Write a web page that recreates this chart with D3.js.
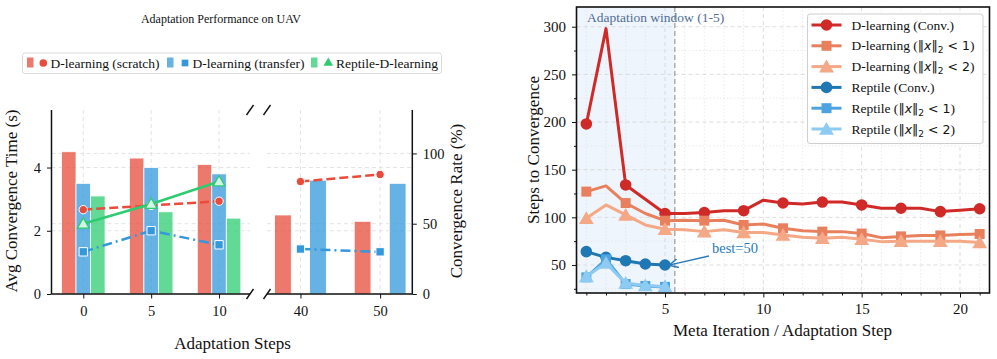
<!DOCTYPE html>
<html><head><meta charset="utf-8">
<script src="https://cdn.jsdelivr.net/npm/d3@7"></script>
<style>
body{margin:0;background:#fff}
svg{display:block}
text{font-family:"Liberation Serif","Times New Roman",serif;fill:#111}
</style>
</head><body>
<svg id="c" width="997" height="359"></svg>
<script>
// ---------------- data (left chart) ----------------
const adaptSteps   = [0, 5, 10, 40, 50];
const timeScratch  = [4.5, 4.3, 4.1, 2.5, 2.3];
const timeTransfer = [3.5, 4.0, 3.8, 3.6, 3.5];
const timeReptile  = [3.1, 2.6, 2.4, null, null];
const rateScratch  = [60, 63, 66, 80, 85];
const rateTransfer = [30, 45, 35, 32, 30];
const rateReptile  = [50, 64, 80, null, null];
const timeTicks = [0, 2, 4];
const rateTicks = [0, 50, 100];
const leftPanelSteps = [0, 5, 10];
const rightPanelSteps = [40, 50];

// ---------------- data (right chart) ----------------
const metaIter = [1,2,3,4,5,6,7,8,9,10,11,12,13,14,15,16,17,18,19,20,21];
const dConv = [198,298,134,119,104,104,105,107,107,118,115,114,116,116,113,109.5,109.5,109.5,106,107.5,109];
const dLt1  = [127,133,115,104,96.5,97,96.5,97,92,93,88.5,86,85,85,83,78.7,80,81,81,82,82.5];
const dLt2  = [99,113,102.5,92,87.5,87,85,87,84,84,81.5,79,78,79,77,74.5,75,75,75,75,73.5];
const reptIter = [1,2,3,4,5];
const rConv = [64,58,54.5,51,50];
const rLt1  = [37,56,30,28,27];
const rLt2  = [38,52,31,28.5,27.5];
const stepTicks = [50,100,150,200,250,300];
const iterTicks = [5,10,15,20];

const svg = d3.select('#c');
const SERIF = '"Liberation Serif","Times New Roman",serif';
const MATH = '"DejaVu Sans",sans-serif';

// =============== LEFT CHART ===============
const red = '#e74c3c', blue = '#3498db', green = '#2ecc71';
const yT = d3.scaleLinear().domain([0, 5.82]).range([294, 110]);
const yR = d3.scaleLinear().domain([0, 130.9]).range([294, 110]);
const xA = d3.scaleLinear().domain([-2.34, 12.28]).range([51.5, 250]);
const xB = d3.scaleLinear().domain([35.8, 54.04]).range([267, 412.3]);

const gL = svg.append('g');
function hgrid(xs, scale, ticks){
  ticks.forEach(t=>{
    gL.append('line').attr('x1',xs.range()[0]).attr('x2',xs.range()[1])
      .attr('y1',scale(t)).attr('y2',scale(t))
      .attr('stroke','#dcdcdc').attr('stroke-width',0.8).attr('stroke-dasharray','4,3');
  });
}
[[xA,leftPanelSteps],[xB,rightPanelSteps]].forEach(([xs,st])=>{
  hgrid(xs, yT, timeTicks.filter(t=>t>0));
  hgrid(xs, yR, rateTicks.filter(t=>t>0));
  st.forEach(s=>{
    gL.append('line').attr('x1',xs(s)).attr('x2',xs(s)).attr('y1',110).attr('y2',294)
      .attr('stroke','#dcdcdc').attr('stroke-width',0.8).attr('stroke-dasharray','4,3');
  });
});

function drawPanel(xs, steps, bars, w){
  steps.forEach(s=>{
    const i = adaptSteps.indexOf(s);
    bars.forEach(b=>{
      const v = b.vals[i];
      if(v==null) return;
      gL.append('rect')
        .attr('x', xs(s + b.off - w/2)).attr('width', xs(s + w/2) - xs(s - w/2))
        .attr('y', yT(v)).attr('height', yT(0) - yT(v))
        .attr('fill', b.color).attr('fill-opacity', 0.75)
        .attr('stroke','#fff').attr('stroke-width',0.8);
    });
  });
  const lines = [
    {vals: rateScratch, color: red, dash:'9,4', sym: d3.symbolCircle, size: 55},
    {vals: rateTransfer, color: blue, dash:'10,4,2,4', sym: d3.symbolSquare, size: 70},
    {vals: rateReptile, color: green, dash:null, sym: d3.symbolTriangle, size: 60}
  ];
  lines.forEach(L=>{
    const pts = steps.map(s=>[s, L.vals[adaptSteps.indexOf(s)]]).filter(p=>p[1]!=null);
    if(!pts.length) return;
    gL.append('path').attr('d', d3.line().x(p=>xs(p[0])).y(p=>yR(p[1]))(pts))
      .attr('fill','none').attr('stroke',L.color).attr('stroke-width',2.5)
      .attr('stroke-dasharray', L.dash);
    pts.forEach(p=>{
      const isTri = L.sym===d3.symbolTriangle;
      gL.append('path').attr('d', d3.symbol().type(L.sym).size(L.size)())
        .attr('transform',`translate(${xs(p[0])},${yR(p[1]) + (isTri?1:0)})`)
        .attr('fill', isTri ? '#d5f5e3' : L.color)
        .attr('stroke', isTri ? green : '#fff').attr('stroke-width', isTri?1.3:1);
    });
  });
}
drawPanel(xA, leftPanelSteps, [
  {vals: timeScratch, color: red, off: -1.07},
  {vals: timeTransfer, color: blue, off: 0},
  {vals: timeReptile, color: green, off: 1.07}
], 1.07);
drawPanel(xB, rightPanelSteps, [
  {vals: timeScratch, color: red, off: -2.2},
  {vals: timeTransfer, color: blue, off: 2.2}
], 2.1);

// spines & axes
const axL = gL.append('g').attr('transform','translate(51.5,0)')
  .call(d3.axisLeft(yT).tickValues(timeTicks).tickFormat(d3.format('d')).tickSize(4.5).tickPadding(6));
const axR = gL.append('g').attr('transform','translate(412.3,0)')
  .call(d3.axisRight(yR).tickValues(rateTicks).tickFormat(d3.format('d')).tickSize(4.5).tickPadding(6));
const axBA = gL.append('g').attr('transform','translate(0,294)')
  .call(d3.axisBottom(xA).tickValues(leftPanelSteps).tickSize(4.5).tickPadding(7));
const axBB = gL.append('g').attr('transform','translate(0,294)')
  .call(d3.axisBottom(xB).tickValues(rightPanelSteps).tickSize(4.5).tickPadding(7));
[axL,axR,axBA,axBB].forEach(a=>{
  a.selectAll('path.domain').attr('stroke','#111').attr('stroke-width',1.5);
  a.selectAll('.tick line').attr('stroke','#111').attr('stroke-width',1);
  a.selectAll('text').attr('font-family',SERIF).attr('font-size',14.5).attr('fill','#222');
});
axBA.select('path.domain').attr('d',`M51.5,0H250`);
axBB.select('path.domain').attr('d',`M267,0H412.3`);
axL.select('path.domain').attr('d',`M0,0V${-(294-110)}`).attr('transform','translate(0,294)');
axR.select('path.domain').attr('d',`M0,0V${-(294-110)}`).attr('transform','translate(0,294)');

// break marks
[[250,294],[267,294],[250,110],[267,110]].forEach(([x,y])=>{
  gL.append('line').attr('x1',x-3.5).attr('y1',y+5).attr('x2',x+3.5).attr('y2',y-5)
    .attr('stroke','#111').attr('stroke-width',1.4);
});

// labels
gL.append('text').attr('x',221).attr('y',22.5).attr('text-anchor','middle')
  .attr('font-size',12).text('Adaptation Performance on UAV');
gL.append('text').attr('transform','translate(17,201) rotate(-90)').attr('text-anchor','middle')
  .attr('font-size',17).text('Avg Convergence Time (s)');
gL.append('text').attr('transform','translate(462,201) rotate(-90)').attr('text-anchor','middle')
  .attr('font-size',17).text('Convergence Rate (%)');
gL.append('text').attr('x',232.5).attr('y',349).attr('text-anchor','middle')
  .attr('font-size',17).text('Adaptation Steps');

// legend (left)
const lg = gL.append('g');
lg.append('rect').attr('x',22.5).attr('y',53).attr('width',419).attr('height',20.5).attr('rx',2.5)
  .attr('fill','#fff').attr('stroke','#d0d0d0').attr('stroke-width',0.8);
const legItems = [
  {color: red, sym: d3.symbolCircle, size: 45, px: 27, mx: 43.3, tx: 50.5, label: 'D-learning (scratch)'},
  {color: blue, sym: d3.symbolSquare, size: 45, px: 167, mx: 185, tx: 192.5, label: 'D-learning (transfer)'},
  {color: green, sym: d3.symbolTriangle, size: 40, px: 311, mx: 328.3, tx: 336, label: 'Reptile-D-learning'}
];
legItems.forEach(it=>{
  lg.append('rect').attr('x',it.px).attr('y',57.5).attr('width',6.5).attr('height',10)
    .attr('fill',it.color).attr('fill-opacity',0.75);
  lg.append('path').attr('d',d3.symbol().type(it.sym).size(it.size)())
    .attr('transform',`translate(${it.mx},63)`).attr('fill',it.color);
  lg.append('text').attr('x',it.tx).attr('y',67.8).attr('font-size',13.5).text(it.label);
});

// =============== RIGHT CHART ===============
const X0 = 576.5, X1 = 989.5, Y0 = 7, Y1 = 293;
const x = d3.scaleLinear().domain([0.5, 21.5]).range([X0, X1]);
const y = d3.scaleLinear().domain([20.6, 320.7]).range([Y1, Y0]);
const gR = svg.append('g');

gR.append('rect').attr('x',x(0.5)).attr('width',x(5.5)-x(0.5)).attr('y',Y0).attr('height',Y1-Y0)
  .attr('fill','#eff5fc');

const minorY = [25,75,125,175,225,275];
minorY.forEach(v=>gR.append('line').attr('x1',X0).attr('x2',X1).attr('y1',y(v)).attr('y2',y(v))
  .attr('stroke','#e3e3e3').attr('stroke-width',0.7).attr('stroke-dasharray','1.5,2'));
metaIter.filter(v=>v%5!==0).forEach(v=>gR.append('line').attr('y1',Y0).attr('y2',Y1).attr('x1',x(v)).attr('x2',x(v))
  .attr('stroke','#e3e3e3').attr('stroke-width',0.7).attr('stroke-dasharray','1.5,2'));
stepTicks.forEach(v=>gR.append('line').attr('x1',X0).attr('x2',X1).attr('y1',y(v)).attr('y2',y(v))
  .attr('stroke','#d4d4d4').attr('stroke-width',0.8).attr('stroke-dasharray','4,3'));
iterTicks.forEach(v=>gR.append('line').attr('y1',Y0).attr('y2',Y1).attr('x1',x(v)).attr('x2',x(v))
  .attr('stroke','#d4d4d4').attr('stroke-width',0.8).attr('stroke-dasharray','4,3'));

gR.append('line').attr('x1',x(5.5)).attr('x2',x(5.5)).attr('y1',Y0).attr('y2',Y1)
  .attr('stroke','#9a9a9a').attr('stroke-width',1.2).attr('stroke-dasharray','5,3');
gR.append('text').attr('x',587).attr('y',21.5).attr('font-size',13.5)
  .style('fill','#4f6f94').text('Adaptation window (1-5)');

const seriesR = [
  {xs: metaIter, vals: dConv, color:'#cf2a27', sym:d3.symbolCircle, size:105, every:2, lw:3},
  {xs: metaIter, vals: dLt1, color:'#e8805e', sym:d3.symbolSquare, size:100, every:2, lw:3},
  {xs: metaIter, vals: dLt2, color:'#f4a886', sym:d3.symbolTriangle, size:95, every:2, lw:3},
  {xs: reptIter, vals: rConv, color:'#1f77b4', sym:d3.symbolCircle, size:105, every:1, lw:3},
  {xs: reptIter, vals: rLt1, color:'#4ca3e0', sym:d3.symbolSquare, size:100, every:1, lw:3},
  {xs: reptIter, vals: rLt2, color:'#8dcbf3', sym:d3.symbolTriangle, size:95, every:1, lw:3}
];
seriesR.forEach(S=>{
  const pts = S.xs.map((v,i)=>[v,S.vals[i]]);
  gR.append('path').attr('d', d3.line().x(p=>x(p[0])).y(p=>y(p[1]))(pts))
    .attr('fill','none').attr('stroke',S.color).attr('stroke-width',S.lw).attr('stroke-linejoin','round');
  pts.forEach((p,i)=>{
    if(i % S.every) return;
    const tri = S.sym===d3.symbolTriangle;
    gR.append('path').attr('d',d3.symbol().type(S.sym).size(S.size)())
      .attr('transform',`translate(${x(p[0])},${y(p[1])+(tri?1.5:0)})`).attr('fill',S.color);
  });
});

gR.append('defs').append('marker').attr('id','ah').attr('viewBox','0 0 10 10').attr('refX',9).attr('refY',5)
  .attr('markerWidth',7).attr('markerHeight',7).attr('orient','auto')
  .append('path').attr('d','M0,0L10,5L0,10').attr('fill','none').attr('stroke','#2a7ab8').attr('stroke-width',1.6);
gR.append('line').attr('x1',709).attr('y1',256).attr('x2',x(5)+5).attr('y2',y(50))
  .attr('stroke','#2a7ab8').attr('stroke-width',1.3).attr('marker-end','url(#ah)');
gR.append('text').attr('x',712).attr('y',253).attr('font-size',14.5).style('fill','#2a7ab8').text('best=50');

gR.append('rect').attr('x',X0).attr('y',Y0).attr('width',X1-X0).attr('height',Y1-Y0)
  .attr('fill','none').attr('stroke','#111').attr('stroke-width',1.6);
const ay = gR.append('g').attr('transform',`translate(${X0},0)`)
  .call(d3.axisLeft(y).tickValues(stepTicks).tickSize(4.5).tickPadding(6));
const ayMinor = gR.append('g').attr('transform',`translate(${X0},0)`)
  .call(d3.axisLeft(y).tickValues(minorY).tickSize(2.5).tickFormat(''));
const ax = gR.append('g').attr('transform',`translate(0,${Y1})`)
  .call(d3.axisBottom(x).tickValues(iterTicks).tickSize(4.5).tickPadding(6));
const axMinor = gR.append('g').attr('transform',`translate(0,${Y1})`)
  .call(d3.axisBottom(x).tickValues(metaIter.filter(v=>v%5!==0)).tickSize(2.5).tickFormat(''));
[ay,ayMinor,ax,axMinor].forEach(a=>{
  a.select('path.domain').remove();
  a.selectAll('.tick line').attr('stroke','#111').attr('stroke-width',1);
  a.selectAll('text').attr('font-family',SERIF).attr('font-size',15).attr('fill','#222');
});
gR.append('text').attr('transform','translate(539,150) rotate(-90)').attr('text-anchor','middle')
  .attr('font-size',17).text('Steps to Convergence');
gR.append('text').attr('x',782.5).attr('y',336).attr('text-anchor','middle')
  .attr('font-size',17).text('Meta Iteration / Adaptation Step');

const lr = gR.append('g');
lr.append('rect').attr('x',807.5).attr('y',14).attr('width',175.5).attr('height',129.5).attr('rx',2.5)
  .attr('fill','#fff').attr('fill-opacity',0.9).attr('stroke','#cfcfcf').attr('stroke-width',1);
const legR = [
  {s: seriesR[0], name:'D-learning', cond:null},
  {s: seriesR[1], name:'D-learning', cond:'1'},
  {s: seriesR[2], name:'D-learning', cond:'2'},
  {s: seriesR[3], name:'Reptile', cond:null},
  {s: seriesR[4], name:'Reptile', cond:'1'},
  {s: seriesR[5], name:'Reptile', cond:'2'}
];
legR.forEach((L,i)=>{
  const cy = 25 + i*20.8;
  lr.append('line').attr('x1',811.5).attr('x2',841.5).attr('y1',cy).attr('y2',cy)
    .attr('stroke',L.s.color).attr('stroke-width',3);
  const tri = L.s.sym===d3.symbolTriangle;
  lr.append('path').attr('d',d3.symbol().type(L.s.sym).size(L.s.size)())
    .attr('transform',`translate(826.5,${cy+(tri?1.5:0)})`).attr('fill',L.s.color);
  const t = lr.append('text').attr('x',851.5).attr('y',cy+4.5).attr('font-size',13.5);
  if(L.cond===null){
    t.text(L.name + ' (Conv.)');
  } else {
    t.append('tspan').text(L.name + ' (');
    t.append('tspan').attr('font-family',MATH).attr('font-size',12.5).text('\u2016');
    t.append('tspan').attr('font-family',MATH).attr('font-size',12.5).attr('font-style','italic').text('x');
    t.append('tspan').attr('font-family',MATH).attr('font-size',12.5).text('\u2016');
    t.append('tspan').attr('font-family',MATH).attr('font-size',9).attr('dy',3).text('2');
    t.append('tspan').attr('font-family',MATH).attr('font-size',12.5).attr('dy',-3).text(' < ' + L.cond);
    t.append('tspan').text(')');
  }
});
</script>
</body></html>
